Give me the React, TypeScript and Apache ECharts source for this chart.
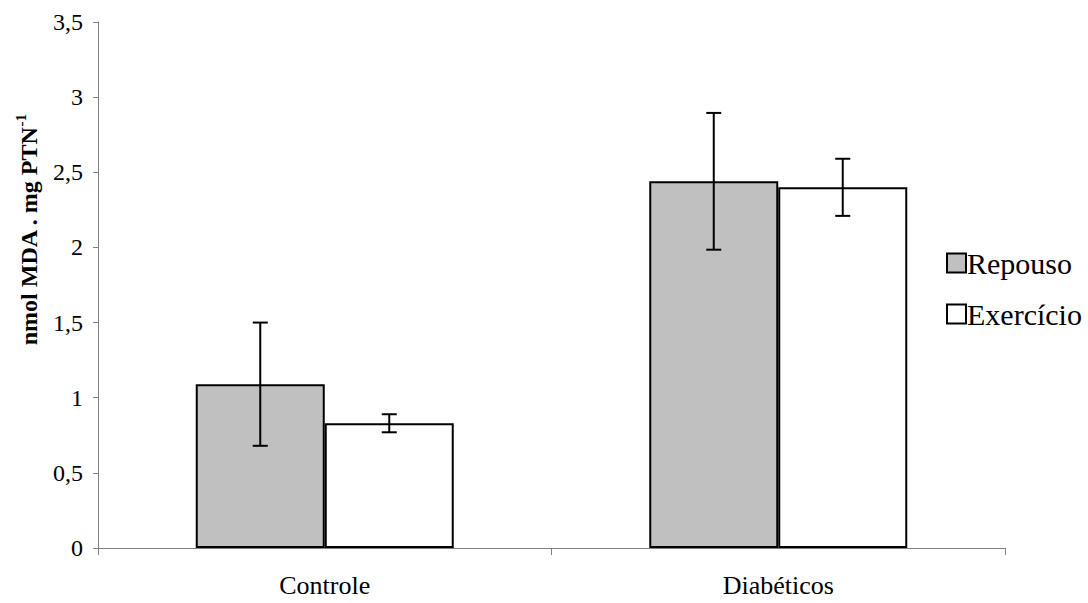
import React, { useEffect, useRef } from "react";
import * as echarts from "echarts";

const categories = ["Controle", "Diabéticos"];
const seriesNames = ["Repouso", "Exercício"];
const repouso = [1.09, 2.44];
const exercicio = [0.83, 2.4];
const repousoErr = [0.41, 0.455];
const exercicioErr = [0.06, 0.19];
const yTicks = { min: 0, max: 3.5, interval: 0.5 };

const BAR_W = 129;
const SERIF = "Times New Roman, Liberation Serif, serif";

function errorSeries(name: string, means: number[], errs: number[], offset: number) {
  return {
    type: "custom",
    name: name + "-err",
    z: 10,
    data: means.map((m, i) => [i, m - errs[i], m + errs[i]]),
    renderItem: (params: any, api: any) => {
      const i = api.value(0);
      const lo = api.coord([i, api.value(1)]);
      const hi = api.coord([i, api.value(2)]);
      const x = lo[0] + offset;
      const cap = 7.5;
      const style = { stroke: "#000", lineWidth: 2 };
      return {
        type: "group",
        children: [
          { type: "line", shape: { x1: x, y1: lo[1], x2: x, y2: hi[1] }, style },
          { type: "line", shape: { x1: x - cap, y1: lo[1], x2: x + cap, y2: lo[1] }, style },
          { type: "line", shape: { x1: x - cap, y1: hi[1], x2: x + cap, y2: hi[1] }, style },
        ],
      };
    },
  };
}

export default function App() {
  const ref = useRef<HTMLDivElement>(null);
  useEffect(() => {
    const chart = echarts.init(ref.current!, undefined, { renderer: "svg" });
    chart.setOption({
      animation: false,
      backgroundColor: "#fff",
      textStyle: { fontFamily: SERIF },
      grid: { left: 98, right: 83, top: 22, bottom: 55 },
      legend: {
        data: seriesNames,
        orient: "vertical",
        left: 941,
        top: 243,
        itemWidth: 19,
        itemHeight: 19,
        itemGap: 21,
        icon: "rect",
        selectedMode: false,
        textStyle: { fontSize: 30, lineHeight: 30, color: "#000", fontFamily: SERIF, padding: [0, 0, 0, -4] },
      },
      xAxis: {
        type: "category",
        data: categories,
        axisLine: { lineStyle: { color: "#808080", width: 1 } },
        axisTick: { show: true, length: 7, lineStyle: { color: "#808080" } },
        axisLabel: { fontSize: 26, color: "#000", margin: 24, fontFamily: SERIF },
        splitLine: { show: false },
      },
      yAxis: {
        type: "value",
        min: yTicks.min,
        max: yTicks.max,
        interval: yTicks.interval,
        axisLine: { show: true, lineStyle: { color: "#808080", width: 1 } },
        axisTick: { show: true, length: 5, lineStyle: { color: "#808080" } },
        axisLabel: {
          fontSize: 24,
          color: "#000",
          margin: 15,
          fontFamily: SERIF,
          formatter: (v: number) => String(v).replace(".", ","),
        },
        splitLine: { show: false },
      },
      graphic: [
        {
          type: "text",
          x: 27,
          y: 230,
          rotation: Math.PI / 2,
          style: {
            text: "{a|nmol MDA . mg PTN}{s|-1}",
            textAlign: "center",
            textVerticalAlign: "middle",
            rich: {
              a: { fontSize: 24, fontWeight: "bold", fontFamily: SERIF, fill: "#000", lineHeight: 27, verticalAlign: "bottom" },
              s: { fontSize: 15, fontWeight: "bold", fontFamily: SERIF, fill: "#000", verticalAlign: "top", lineHeight: 15 },
            },
          },
        },
      ],
      series: [
        {
          type: "bar",
          name: seriesNames[0],
          data: repouso,
          barWidth: BAR_W,
          barGap: "0%",
          itemStyle: { color: "#C0C0C0", borderColor: "#000", borderWidth: 2 },
        },
        {
          type: "bar",
          name: seriesNames[1],
          data: exercicio,
          barWidth: BAR_W,
          barGap: "0%",
          itemStyle: { color: "#FFFFFF", borderColor: "#000", borderWidth: 2 },
        },
        errorSeries(seriesNames[0], repouso, repousoErr, -BAR_W / 2),
        errorSeries(seriesNames[1], exercicio, exercicioErr, BAR_W / 2),
      ],
    });
    return () => chart.dispose();
  }, []);
  return <div ref={ref} style={{ width: 1088, height: 603, position: "absolute", left: 0, top: 0 }} />;
}
